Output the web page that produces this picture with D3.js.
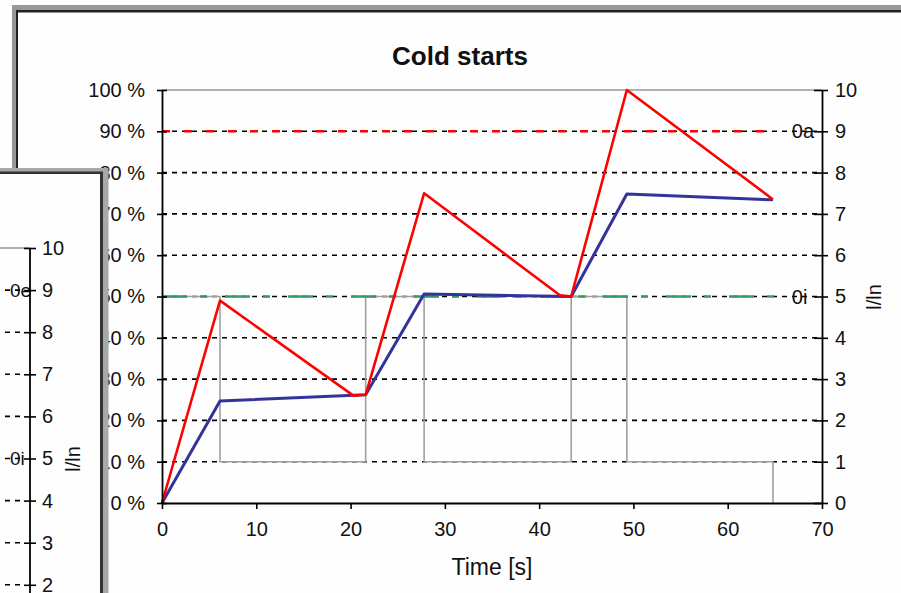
<!DOCTYPE html>
<html><head><meta charset="utf-8">
<script src="https://cdn.jsdelivr.net/npm/d3@7"></script>
<style>html,body{margin:0;padding:0;background:#fff;overflow:hidden}svg{display:block}text{font-family:"Liberation Sans",Arial,sans-serif;fill:#111}</style>
</head><body>
<script>
// ---- data ----
const title = "Cold starts";
const xTicks = [0, 10, 20, 30, 40, 50, 60, 70];
const pctTicks = [0, 10, 20, 30, 40, 50, 60, 70, 80, 90, 100];
const pctLabels = ["0 %", "10 %", "20 %", "30 %", "40 %", "50 %", "60 %", "70 %", "80 %", "90 %", "100 %"];
const lnTicks = [0, 1, 2, 3, 4, 5, 6, 7, 8, 9, 10];
const gridPct = [10, 20, 30, 40, 50, 60, 70, 80, 90];
const xTitle = "Time [s]";
const yRightTitle = "l/ln";

const redTime = [0, 6.15, 20.3, 21.6, 27.8, 42.2, 43.4, 49.3, 64.8];
const redPct  = [0, 49, 26, 26.2, 75, 50.3, 50, 100, 73.5];
const blueTime = [0, 6.15, 21.6, 27.8, 43.4, 49.3, 64.8];
const bluePct  = [0, 24.7, 26.2, 50.6, 50, 74.8, 73.4];
const grayTime = [0, 6.15, 6.15, 21.6, 21.6, 27.8, 27.8, 43.4, 43.4, 49.3, 49.3, 64.8, 64.8];
const grayLn   = [5, 5, 1, 1, 5, 5, 1, 1, 5, 5, 1, 1, 0];
const refNames = ["0a", "0i"];
const refValues = [9, 5];
const refRange = [0, 65];

// background window (partly hidden)
const backTicks = [2, 3, 4, 5, 6, 7, 8, 9, 10];
const backGrid = [2, 3, 4, 6, 7, 8];
const backRefNames = ["0e", "0i"];
const backRefValues = [9, 5];

// ---- drawing ----
const W = 901, H = 593;
const svg = d3.select("body").append("svg").attr("width", W).attr("height", H);
svg.append("rect").attr("width", W).attr("height", H).attr("fill", "#fefefe");

// main window frame
svg.append("rect").attr("x", 12).attr("y", 5).attr("width", W).attr("height", H).attr("fill", "#999");
svg.append("rect").attr("x", 16).attr("y", 10).attr("width", W).attr("height", H).attr("fill", "#222");
svg.append("rect").attr("x", 18).attr("y", 12.5).attr("width", W).attr("height", H).attr("fill", "#fefefe");

const x = d3.scaleLinear().domain([0, 70]).range([162, 822]);
const yL = d3.scaleLinear().domain([0, 100]).range([503, 90]);
const yR = d3.scaleLinear().domain([0, 10]).range([503, 90]);

svg.append("text").attr("x", 460).attr("y", 65).attr("text-anchor", "middle")
  .attr("font-size", 26).attr("font-weight", "bold").text(title);

// gridlines
svg.append("g").selectAll("line").data(gridPct).join("line")
  .attr("x1", x(0)).attr("x2", x(70)).attr("y1", d => yL(d)).attr("y2", d => yL(d))
  .attr("stroke", "#000").attr("stroke-width", 1.6).attr("stroke-dasharray", "5,5");
svg.append("line").attr("x1", x(0)).attr("x2", x(70)).attr("y1", yL(100)).attr("y2", yL(100))
  .attr("stroke", "#999").attr("stroke-width", 1.5);

const line = d3.line();

// gray pulse series
svg.append("path").attr("d", line(grayTime.map((t, i) => [x(t), yR(grayLn[i])])))
  .attr("fill", "none").attr("stroke", "#a0a0a0").attr("stroke-width", 1.6);

// reference lines
const refStyles = [{c: "#ff0000", dash: "8,14", w: 2.6}, {c: "#339966", dash: "25,13,7,18", w: 2.6}];
refValues.forEach((v, i) => {
  svg.append("line").attr("x1", x(refRange[0])).attr("x2", x(refRange[1]))
    .attr("y1", yR(v)).attr("y2", yR(v))
    .attr("stroke", refStyles[i].c).attr("stroke-width", refStyles[i].w)
    .attr("stroke-dasharray", refStyles[i].dash);
  svg.append("text").attr("x", x(refRange[1]) + 17).attr("y", yR(v)).attr("dy", "0.35em")
    .attr("font-size", 20).text(refNames[i]);
});

// blue and red series
svg.append("path").attr("d", line(blueTime.map((t, i) => [x(t), yL(bluePct[i])])))
  .attr("fill", "none").attr("stroke", "#333399").attr("stroke-width", 3).attr("stroke-linejoin", "round");
svg.append("path").attr("d", line(redTime.map((t, i) => [x(t), yL(redPct[i])])))
  .attr("fill", "none").attr("stroke", "#ff0000").attr("stroke-width", 2.6).attr("stroke-linejoin", "round");

// axes
function styleAxis(g) {
  g.select(".domain").attr("stroke", "#000").attr("stroke-width", 1.8);
  g.selectAll(".tick line").attr("stroke", "#000").attr("stroke-width", 1.6);
  g.selectAll(".tick text").attr("font-size", 20).attr("fill", "#111")
   .attr("font-family", "'Liberation Sans',Arial,sans-serif");
}
const xAxis = svg.append("g").attr("transform", `translate(0,${yL(0)})`)
  .call(d3.axisBottom(x).tickValues(xTicks).tickSizeInner(6).tickSizeOuter(0).tickPadding(13).tickFormat(d3.format("d")));
styleAxis(xAxis);

const leftAxis = svg.append("g").attr("transform", `translate(${x(0)},0)`)
  .call(d3.axisLeft(yL).tickValues(pctTicks).tickSizeOuter(0).tickSizeInner(0).tickPadding(17)
    .tickFormat((d, i) => pctLabels[i]));
styleAxis(leftAxis);
leftAxis.selectAll(".tick line").attr("x1", -5).attr("x2", 5);

const rightAxis = svg.append("g").attr("transform", `translate(${x(70)},0)`)
  .call(d3.axisRight(yR).tickValues(lnTicks).tickSizeOuter(0).tickSizeInner(0).tickPadding(13).tickFormat(d3.format("d")));
styleAxis(rightAxis);
rightAxis.selectAll(".tick line").attr("x1", -8).attr("x2", 6);

svg.append("text").attr("x", x(35)).attr("y", 575).attr("text-anchor", "middle")
  .attr("font-size", 23).text(xTitle);
svg.append("text").attr("transform", `translate(874,297) rotate(-90)`).attr("text-anchor", "middle")
  .attr("dy", "0.35em").attr("font-size", 20).text(yRightTitle);

// ---- overlapping second window ----
const back = svg.append("g");
back.append("rect").attr("x", -20).attr("y", 168).attr("width", 128.5).attr("height", 500).attr("fill", "#a8a8a8");
back.append("rect").attr("x", -20).attr("y", 171.5).attr("width", 123).attr("height", 500).attr("fill", "#333");
back.append("rect").attr("x", -20).attr("y", 174).attr("width", 120).attr("height", 500).attr("fill", "#fefefe");

const yB = d3.scaleLinear().domain([0, 10]).range([669, 248]);
back.append("line").attr("x1", -5).attr("x2", 30).attr("y1", yB(10)).attr("y2", yB(10))
  .attr("stroke", "#999").attr("stroke-width", 1.5);
back.append("g").selectAll("line").data(backGrid.concat(backRefValues)).join("line")
  .attr("x1", -5).attr("x2", 25).attr("y1", d => yB(d)).attr("y2", d => yB(d))
  .attr("stroke", "#000").attr("stroke-width", 1.6).attr("stroke-dasharray", "5,5");
backRefValues.forEach((v, i) => {
  back.append("text").attr("x", 10).attr("y", yB(v)).attr("dy", "0.35em")
    .attr("font-size", 19).text(backRefNames[i]);
});
const backAxis = back.append("g").attr("transform", "translate(30,0)")
  .call(d3.axisRight(yB).tickValues(backTicks).tickSizeOuter(0).tickSizeInner(0).tickPadding(12).tickFormat(d3.format("d")));
styleAxis(backAxis);
backAxis.select(".domain").attr("d", `M0,${yB(10)}V${H + 10}`);
backAxis.selectAll(".tick line").attr("x1", -6).attr("x2", 6);
back.append("text").attr("transform", `translate(73,459) rotate(-90)`).attr("text-anchor", "middle")
  .attr("dy", "0.35em").attr("font-size", 20).text(yRightTitle);
</script>
</body></html>
